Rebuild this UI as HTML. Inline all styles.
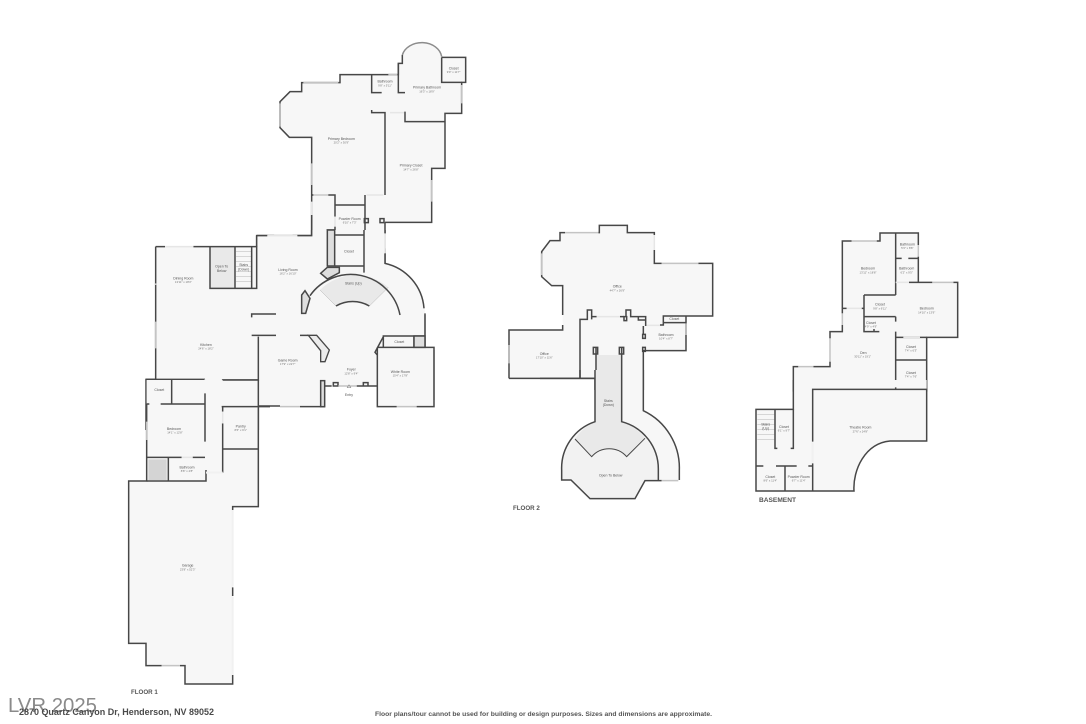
<!DOCTYPE html>
<html><head><meta charset="utf-8">
<style>
html,body{margin:0;padding:0;background:#fff;width:1086px;height:724px;overflow:hidden}
svg{display:block}
.f{fill:#f7f7f7;stroke:none}
.w{fill:none;stroke:#474747;stroke-width:4.5;stroke-linejoin:miter}
.l{fill:none;stroke:#c4c4c4;stroke-width:4.5}
.p{fill:none;stroke:#e6e6e6;stroke-width:4.5}
.e{fill:none;stroke:#f1f1f1;stroke-width:6}
.g{fill:#e9e9e9;stroke:none}
.d{fill:#dedede;stroke:#474747;stroke-width:4.5}
.t{fill:none;stroke:#b5b5b5;stroke-width:1.5}
text{font-family:"Liberation Sans",sans-serif}
.z{filter:blur(.3px)}
.z text{font-size:10.5px;fill:#555;text-anchor:middle}
.z text.s{font-size:8.5px;fill:#777}
</style></head><body>
<svg width="1086" height="724" viewBox="0 0 1086 724" xmlns="http://www.w3.org/2000/svg">
<rect width="1086" height="724" fill="#fff"/>

<!-- Floor 1 upper -->
<g class="z" transform="translate(120,30) scale(.33333)">
<path class="f" d="M545,158H660V134H835V100H847V75A60,48 0 0 1 965,82H1037V157H1025V250H975V415H935V577H795V720H410V617H575V322H508L480,293V215L510,185H545Z"/>
<path class="w" d="M575,617V322H508L480,293V215L510,185H545V158H660V134H835V100H847V75M965,82H1037V157H1025V250H975V415H935V577H795"/>
<path fill="none" stroke="#8c8c8c" stroke-width="4.5" d="M847,75A60,48 0 0 1 965,80"/>
<path class="w" d="M965,82V157H1025M755,134V188H785M835,100V188H855M755,240V248H795V495M855,245V275H975"/>
<path class="w" d="M575,495H645V525H735M735,495V617M575,617H410M645,525V560M645,590V617M575,617V555M648,618H735M648,618V712H735M735,655V712M795,577V610M795,655V700L833,720"/>
<path class="l" d="M550,158H655M480,220V290M805,134H832M575,400V465M935,450V515M1025,165V220M795,610V655"/>
<path class="p" d="M580,495H625M740,495H790M810,248H852M575,515V555M645,560V590M465,617H515M735,617V650"/>
<path class="w" d="M410,617V650M410,617H462M518,617H575M733,566h12v12h-12zM780,566h12v12h-12z"/>
<rect class="d" x="622" y="600" width="20" height="112"/>
<text x="664" y="330">Primary Bedroom</text><text class="s" x="664" y="341">20'2" x 30'9"</text>
<text x="795" y="158">Bathroom</text><text class="s" x="795" y="169">9'8" x 5'11"</text>
<text x="921" y="176">Primary Bathroom</text><text class="s" x="921" y="187">16'3" x 18'9"</text>
<text x="1001" y="118">Closet</text><text class="s" x="1001" y="129">9'9" x 11'7"</text>
<text x="873" y="410">Primary Closet</text><text class="s" x="873" y="421">14'7" x 26'8"</text>
<text x="689" y="570">Powder Room</text><text class="s" x="689" y="581">6'10" x 7'3"</text>
<text x="687" y="667">Closet</text>
<text x="632" y="660" transform="rotate(-90 632 660)">Storage</text>
</g>

<!-- Floor 1 mid -->
<g class="z" transform="translate(140,230) scale(.33333)">
<path class="f" d="M47,50H350V17H515V0H735V100A150,150 0 0 1 855,250V352H882V530H712V468H555V530H355V600H18V448H47Z"/>
<rect class="g" x="210" y="50" width="75" height="125"/>
<path class="g" d="M540,180A150,150 0 0 1 745,172L688,228A100,100 0 0 0 588,228Z"/>
<path class="t" d="M540,180L588,228M745,172L688,228"/>
<path class="t" d="M288,65H335M288,80H335M288,95H335M288,110H335M288,125H335M288,140H335M288,155H335"/>
<path class="w" d="M47,50V448H18V600M47,50H75M160,50H285V175H210V50M285,50H350V175H335V50M285,175H335"/>
<path class="w" d="M350,50V17H382M472,17H515V0M335,262V252H408M335,316H408M355,320V450H248V495M248,525V600M248,528H420M480,530H555M355,530V600"/>
<path class="w" d="M18,448H195M95,448V520M62,520H195M18,520H30M195,490V600M480,316H505"/>
<path d="M505,316H530L568,360L555,395H542V362Z" fill="#ececec" stroke="#474747" stroke-width="4"/>
<rect class="d" x="542" y="452" width="12" height="78"/>
<path class="w" d="M555,468H575M650,468H712M580,458h14v10h-14zM670,458h14v10h-14z"/>
<path class="l" d="M595,468H650M420,530H480M47,275V355M47,160V165M855,255V318M882,360V510M770,530H830"/>
<path class="p" d="M75,50H160M382,17H472M735,10V70M195,448V490"/>
<path class="w" d="M712,352V530H770M830,530H882V352H712M882,380V420M730,352V318H855V352M822,318V352M855,250V318M735,0V10M735,70V100A150,150 0 0 1 852,235"/>
<path class="w" d="M730,320L705,367L712,375"/>
<rect class="d" x="822" y="318" width="33" height="34"/>
<path class="w" d="M672,0V128M585,15H672M585,108H672"/>
<rect class="d" x="562" y="0" width="22" height="108"/>
<path class="d" d="M542,130L562,112H598V128L562,147Z" stroke-width="4"/>
<path class="d" d="M485,250V195L495,182L510,205L497,250Z" stroke-width="4"/>
<path class="w" d="M510,197A150,150 0 0 1 780,255M588,228A100,100 0 0 1 688,228"/>
<text x="130" y="148">Dining Room</text><text class="s" x="130" y="159">13'11" x 18'3"</text>
<text x="245" y="113">Open To</text><text x="245" y="126">Below</text>
<text x="311" y="108">Stairs</text><text x="311" y="121">(Down)</text>
<text x="444" y="123">Living Room</text><text class="s" x="444" y="134">16'2" x 16'10"</text>
<text x="627" y="67">Closet</text>
<text x="640" y="164">Stairs (Up)</text>
<text x="198" y="348">Kitchen</text><text class="s" x="198" y="359">24'6" x 18'2"</text>
<text x="443" y="394">Game Room</text><text class="s" x="443" y="405">17'9" x 22'7"</text>
<text x="634" y="422">Foyer</text><text class="s" x="634" y="433">12'8" x 9'4"</text>
<text x="778" y="339">Closet</text>
<text x="781" y="429">White Room</text><text class="s" x="781" y="440">15'4" x 17'8"</text>
<text x="57" y="483">Closet</text><text class="s" x="57" y="494">6'11" x 5'8"</text>
<text x="146" y="483">Laundry Room</text><text class="s" x="146" y="494">7'10" x 5'8"</text>
<text x="302" y="488">Wine Bar</text><text class="s" x="302" y="499">8'6" x 6'6"</text>
<path d="M627,464l6,9h-12z" fill="none" stroke="#777" stroke-width="1.5"/>
<text x="627" y="498">Entry</text>
</g>

<!-- Floor 1 lower -->
<g class="z" transform="translate(120,380) scale(.33333)">
<path class="f" d="M80,0H415V380H338V912H195V857H78V790H26V303H80Z"/>
<rect x="85" y="238" width="55" height="62" fill="#d4d4d4"/>
<path class="w" d="M80,72V303H26V790H78V857H125M180,857H195V912H338V885M338,648V622M338,390V380H415V0M308,0H415M305,80H450M308,80V95M308,130V278M308,207H415"/>
<path class="w" d="M80,72H88M122,72H255M155,0V72M255,40V185M80,232H185M218,232H255M145,232V303M258,270V303H80"/>
<path class="l" d="M80,125V180M125,857H180"/>
<path class="p" d="M185,232H218M308,95V130"/>
<path class="e" d="M338,390V620M338,650V885M258,278H308"/>
<text x="118" y="33">Closet</text>
<text x="162" y="150">Bedroom</text><text class="s" x="165" y="161">14'1" x 12'8"</text>
<text x="201" y="265">Bathroom</text><text class="s" x="201" y="276">8'8" x 4'8"</text>
<text x="362" y="142">Pantry</text><text class="s" x="362" y="153">8'6" x 9'1"</text>
<text x="203" y="560">Garage</text><text class="s" x="203" y="571">23'8" x 52'3"</text>
</g>

<!-- Floor 2 -->
<g class="z" transform="translate(500,220) scale(.33333)">
<path class="f" d="M27,330H188V197H155L125,170V95L150,62H180V38H298V16H382V38H463V130H638V288H558V392H430V510H285V475H27Z"/>
<rect x="288" y="405" width="77" height="105" fill="#e9e9e9"/>
<path class="w" d="M27,475V330H188V315M188,285V197H155L125,170V95L150,62H180V38H195M295,38H298V16H382V38H463V45M463,90V130H485M595,130H638V288H558V392H430V510M285,510V475H27M240,475V298H262V270H275V298M275,290H290M360,290H372M378,290V270H392V290H437V318M415,290V300H437M480,315H490V288H558M490,308H558"/>
<path class="l" d="M125,100V165M195,38H295M485,130H595M27,375V430M558,310V345"/>
<path class="p" d="M463,45V90M290,290H360M440,316H480"/>
<path class="w" d="M288,510V382M365,510V382M280,382h13v20h-13zM358,382h13v20h-13zM372,290h8v12h-8zM428,343h8v12h-8zM428,382h8v12h-8zM430,318V343"/>
<text x="352" y="203">Office</text><text class="s" x="352" y="214">44'7" x 26'9"</text>
<text x="133" y="405">Office</text><text class="s" x="133" y="416">17'10" x 11'6"</text>
<text x="498" y="348">Bathroom</text><text class="s" x="498" y="359">10'4" x 8'7"</text>
<text x="523" y="300">Closet</text>
</g>
<g class="z" transform="translate(540,370) scale(.33333)">
<path class="f" d="M165,0H310V122A190,190 0 0 1 418,300V330H315L285,386H150L93,330H65V300A147,147 0 0 1 165,155Z"/>
<path fill="#f2f2f2" d="M105,207A147,147 0 0 0 65,300V330H93L150,386H285L315,332H355V300A147,147 0 0 0 315,205L260,260A70,70 0 0 0 155,260Z"/>
<path fill="#e9e9e9" d="M165,0V155A147,147 0 0 0 105,207L155,260A70,70 0 0 1 260,260L315,205A147,147 0 0 0 245,155V0Z"/>
<path class="w" d="M0,25H165M120,0V25M165,0V155A147,147 0 0 0 65,300V330H93L150,386H285L315,332H365M355,332V300A147,147 0 0 0 245,155V0M310,0V122A190,190 0 0 1 418,300V330"/>
<path class="w" style="stroke-width:3" d="M105,207L155,260A70,70 0 0 1 260,260L315,205"/>
<path class="l" d="M365,332H415"/>
<text x="205" y="96">Stairs</text><text x="205" y="108">(Down)</text>
<text x="212" y="319">Open To Below</text>
</g>

<!-- Basement -->
<g class="z" transform="translate(750,225) scale(.33333)">
<path class="f" d="M130,500V425H240V320H277V48H390V24H505V172H623V337H530V500Z"/>
<path class="w" d="M130,500V425H145M190,425H240V410M240,340V320H277V300M277,265V48H305M380,48H390V24H505V60M505,95V172M477,172H547M610,172H623V337H530V500"/>
<path class="w" d="M437,24V210M437,100H455M475,100H505M342,210H437M342,210V275H437M342,275V320H388M372,320V312M437,275V290M437,320V495M437,337H530M437,405H530M277,250H290M335,250H342"/>
<path class="l" d="M305,48H380M505,60V95M547,172H610M145,425H190M240,340V410M277,265V300"/>
<path class="p" d="M290,250H335M460,337H510M437,172H477"/>
<text x="354" y="134">Bedroom</text><text class="s" x="354" y="145">13'11" x 18'8"</text>
<text x="472" y="61">Bathroom</text><text class="s" x="472" y="72">5'3" x 8'8"</text>
<text x="470" y="134">Bathroom</text><text class="s" x="470" y="145">6'2" x 9'5"</text>
<text x="390" y="242">Closet</text><text class="s" x="390" y="253">9'8" x 6'11"</text>
<text x="363" y="297">Closet</text><text class="s" x="363" y="308">4'9" x 4'9"</text>
<text x="530" y="254">Bedroom</text><text class="s" x="530" y="265">14'10" x 13'9"</text>
<text x="483" y="369">Closet</text><text class="s" x="483" y="380">7'4" x 6'3"</text>
<text x="483" y="447">Closet</text><text class="s" x="483" y="458">7'4" x 7'6"</text>
<text x="340" y="387">Den</text><text class="s" x="338" y="398">30'11" x 19'1"</text>
</g>
<g class="z" transform="translate(750,380) scale(.33333)">
<path class="f" d="M130,0H530V183H420A110,150 0 0 0 312,333H18V88H130Z"/>
<path class="t" d="M22,103H73M22,118H73M22,133H73M22,148H73M22,163H73M22,178H73"/>
<path class="w" d="M130,0V88H18V333H312C308,270 345,190 420,183H530V28H188V185M188,250V333M437,22V28"/>
<path class="w" d="M75,88V205H82M130,88V205H122M18,258H40M78,258H140M105,258V333M175,258H188"/>
<path class="e" d="M188,187V248"/>
<text x="47" y="136">Stairs</text><text x="47" y="149">(Up)</text>
<text x="102" y="144">Closet</text><text class="s" x="102" y="155">6'1" x 9'7"</text>
<text x="331" y="146">Theatre Room</text><text class="s" x="331" y="157">27'6" x 24'8"</text>
<text x="61" y="294">Closet</text><text class="s" x="61" y="305">8'6" x 11'4"</text>
<text x="146" y="294">Powder Room</text><text class="s" x="146" y="305">6'7" x 11'4"</text>
</g>

<text x="131" y="694" font-size="6.2" font-weight="bold" fill="#555">FLOOR 1</text>
<text x="513" y="510" font-size="6.2" font-weight="bold" fill="#555">FLOOR 2</text>
<text x="759" y="502" font-size="6.6" font-weight="bold" fill="#555">BASEMENT</text>
<text x="8" y="712" font-size="20.5" fill="#8a8a8a" textLength="89" lengthAdjust="spacingAndGlyphs">LVR 2025</text>
<text x="19" y="715" font-size="8.8" font-weight="bold" fill="#4a4a4a" textLength="195" lengthAdjust="spacingAndGlyphs">2870 Quartz Canyon Dr, Henderson, NV 89052</text>
<text x="375" y="716" font-size="6.2" font-weight="bold" fill="#555" textLength="337" lengthAdjust="spacingAndGlyphs">Floor plans/tour cannot be used for building or design purposes. Sizes and dimensions are approximate.</text>
</svg>
</body></html>
